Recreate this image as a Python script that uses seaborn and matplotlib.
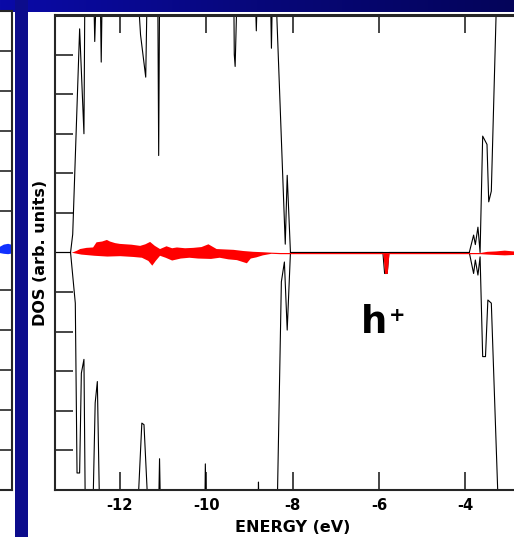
import numpy as np
import matplotlib
matplotlib.use("Agg")
import matplotlib.pyplot as plt
import seaborn as sns
from matplotlib.patches import Rectangle
from matplotlib.colors import LinearSegmentedColormap

sns.set_theme(style="white")
plt.rcParams['font.family'] = ['DejaVu Sans']
plt.rcParams['axes.unicode_minus'] = False
plt.rcParams['text.color'] = 'black'
plt.rcParams['axes.labelcolor'] = 'black'
plt.rcParams['xtick.color'] = 'black'
plt.rcParams['ytick.color'] = 'black'

# Total DOS, majority spin (positive). Values beyond +-6 leave the frame.
energy_up = [-13.50, -13.14, -13.09, -12.93, -12.83, -12.81, -12.60, -12.58, -12.55,
             -12.45, -12.43, -12.41, -11.57, -11.52, -11.40, -11.37, -11.12, -11.10,
             -11.08, -9.36, -9.35, -9.33, -9.29, -8.86, -8.84, -8.82, -8.51, -8.49,
             -8.47, -8.38, -8.17, -8.125, -8.05, -3.91, -3.81, -3.77, -3.71, -3.66,
             -3.60, -3.50, -3.46, -3.40, -3.28, -2.40]
dos_up = [0, 0, 0.46, 5.65, 3.00, 6.4, 6.4, 5.33, 6.4,
          6.4, 4.81, 6.4, 6.4, 5.5, 4.43, 6.4, 6.4, 2.45,
          6.4, 6.4, 5.0, 4.7, 6.4, 6.4, 5.6, 6.4, 6.4, 5.16,
          6.4, 6.4, 0.21, 1.95, 0, 0, 0.44, 0.20, 0.64, 0.0,
          2.94, 2.73, 1.28, 1.55, 6.4, 6.4]

# Total DOS, minority spin (negative)
energy_dn = [-13.50, -13.14, -13.03, -12.99, -12.93, -12.89, -12.83, -12.80, -12.62,
             -12.57, -12.52, -12.47, -11.58, -11.49, -11.44, -11.35, -11.10, -11.08,
             -11.06, -10.03, -10.02, -10.00, -8.80, -8.79, -8.78, -8.355, -8.26, -8.19,
             -8.125, -8.05, -5.91, -5.87, -5.81, -5.77, -3.91, -3.81, -3.77, -3.71,
             -3.66, -3.60, -3.535, -3.48, -3.40, -3.24, -2.40]
dos_dn = [0, 0, -1.28, -5.57, -5.57, -3.05, -2.70, -6.4, -6.4,
          -3.80, -3.26, -6.4, -6.4, -4.31, -4.35, -6.4, -6.4, -5.21,
          -6.4, -6.4, -5.34, -6.4, -6.4, -5.80, -6.4, -6.4, -0.74, -0.24,
          -1.96, 0, 0, -0.53, -0.53, 0, 0, -0.53, -0.19, -0.57,
          -0.11, -2.63, -2.63, -1.20, -1.28, -6.4, -6.4]

# Projected DOS (red), majority spin
pdos_up_energy = [-13.13, -13.00, -12.93, -12.78, -12.63, -12.55, -12.42, -12.31, -12.24,
                  -12.12, -12.01, -11.88, -11.74, -11.54, -11.42, -11.31, -11.20, -11.08,
                  -10.93, -10.80, -10.69, -10.50, -10.31, -10.12, -9.96, -9.77, -9.58,
                  -9.38, -9.15, -8.92, -8.70, -8.53, -8.30,
                  -3.66, -3.50, -3.30, -3.10, -2.90, -2.40]
pdos_up = [0, 0.06, 0.10, 0.13, 0.14, 0.27, 0.29, 0.33, 0.29,
           0.25, 0.23, 0.22, 0.21, 0.18, 0.22, 0.28, 0.18, 0.10,
           0.17, 0.12, 0.14, 0.12, 0.13, 0.15, 0.22, 0.10, 0.09,
           0.08, 0.05, 0.03, 0.02, 0.01, 0,
           0, 0.03, 0.04, 0.06, 0.04, 0.04]

# Projected DOS (red), minority spin
pdos_dn_energy = [-13.09, -12.90, -12.60, -12.30, -12.00, -11.70, -11.50, -11.35, -11.26,
                  -11.18, -11.08, -10.95, -10.80, -10.60, -10.40, -10.20, -9.90, -9.70,
                  -9.50, -9.30, -9.07, -8.98, -8.85, -8.70, -8.50, -8.30, -8.05,
                  -5.91, -5.87, -5.81, -5.77, -3.66, -3.50, -3.30, -3.10, -2.90, -2.40]
pdos_dn = [0, -0.04, -0.07, -0.09, -0.08, -0.10, -0.12, -0.20, -0.32,
           -0.20, -0.07, -0.12, -0.19, -0.14, -0.12, -0.14, -0.15, -0.12,
           -0.16, -0.18, -0.26, -0.14, -0.11, -0.06, -0.02, -0.03, -0.03,
           -0.03, -0.53, -0.53, -0.03, -0.03, -0.04, -0.05, -0.06, -0.05, -0.04]

# Neighbouring panel (blue projected DOS), only its right end is in view
side_energy = [-9.00, -8.90, -8.80, -8.70, -8.60]
side_up = [0.06, 0.10, 0.16, 0.18, 0.15]
side_dn = [-0.03, -0.05, -0.07, -0.08, -0.06]

energy_ticks = [-12, -10, -8, -6, -4]
dos_ticks = [-5, -4, -3, -2, -1, 1, 2, 3, 4, 5]

W, H = 514, 537
fig = plt.figure(figsize=(W / 100, H / 100), dpi=100)
fig.patch.set_facecolor("white")

def px_box(x0, y0, x1, y1):
    return [x0 / W, 1 - y1 / H, (x1 - x0) / W, (y1 - y0) / H]

navy = "#0c0c8c"
spine_col = "#262626"

# slide decoration: vertical stripe and gradient title bar
fig.patches.append(Rectangle((15 / W, 0), 12.5 / W, 1, transform=fig.transFigure,
                             facecolor=navy, edgecolor="none", zorder=0))
bar_ax = fig.add_axes(px_box(0, 0, W, 12.5))
grad = np.linspace(0, 1, 256)[None, :]
bar_cmap = LinearSegmentedColormap.from_list("bar", ["#0a0aa8", "#07077a", "#04045a"])
bar_ax.imshow(grad, aspect="auto", cmap=bar_cmap)
bar_ax.set_axis_off()

# neighbouring panel on the left
side_ax = fig.add_axes(px_box(-200, 11, 12, 490))
side_ax.fill_between(side_energy, side_up, 0, color="#1030ff", lw=0)
side_ax.fill_between(side_energy, side_dn, 0, color="#1030ff", lw=0)
side_ax.set_yticks(dos_ticks)
side_ax.set_xticks([])
side_ax.set_xlim(-13.5, -8.6)
side_ax.set_ylim(-6, 6)
side_ax.yaxis.tick_right()
side_ax.tick_params(axis="y", direction="in", length=14, width=1.2, color=spine_col,
                    labelright=False, labelleft=False, right=True, left=False)
for s in side_ax.spines.values():
    s.set_color(spine_col)
    s.set_linewidth(1.5)

# main DOS panel
ax = fig.add_axes(px_box(55, 15, 55 + 475.2, 490))
ax.set_facecolor("white")

sns.lineplot(x=energy_up, y=dos_up, sort=False, estimator=None, color="black",
             lw=0.8, ax=ax, zorder=2)
sns.lineplot(x=energy_dn, y=dos_dn, sort=False, estimator=None, color="black",
             lw=0.8, ax=ax, zorder=2)
ax.fill_between(pdos_up_energy, pdos_up, 0, color="red", lw=0, zorder=3)
ax.fill_between(pdos_dn_energy, pdos_dn, 0, color="red", lw=0, zorder=3)

ax.set_xticks(energy_ticks)
ax.set_xticklabels([str(t) for t in energy_ticks])
ax.set_yticks(dos_ticks)
ax.set_xlim(-13.5, -2.5)
ax.set_ylim(-6, 6)
ax.tick_params(axis="both", direction="in", length=13, width=1.2, color=spine_col,
               top=True, bottom=True, left=True, right=False,
               labelleft=False, labelsize=10.6, pad=5.5, labelcolor="black")
for lab in ax.get_xticklabels():
    lab.set_fontweight("bold")
for name, s in ax.spines.items():
    s.set_color(spine_col)
    s.set_linewidth(1.5)
ax.spines["top"].set_linewidth(2.2)
ax.spines["right"].set_visible(False)

ax.set_xlabel("ENERGY (eV)", fontsize=11.5, fontweight="bold", labelpad=5,
              color="black")
ax.set_ylabel("DOS (arb. units)", fontsize=11.5, fontweight="bold", color="black")
ax.yaxis.set_label_coords(-7 / 475.2, 0.5)

ax.text(-6.42, -2.04, "h", fontsize=26.5, fontweight="bold", ha="left",
        va="baseline", color="black", zorder=5)
ax.text(-5.58, -1.59, "+", fontsize=14, fontweight="bold", ha="center",
        va="center", color="black", zorder=5)

fig.savefig("out.png", dpi=100)
